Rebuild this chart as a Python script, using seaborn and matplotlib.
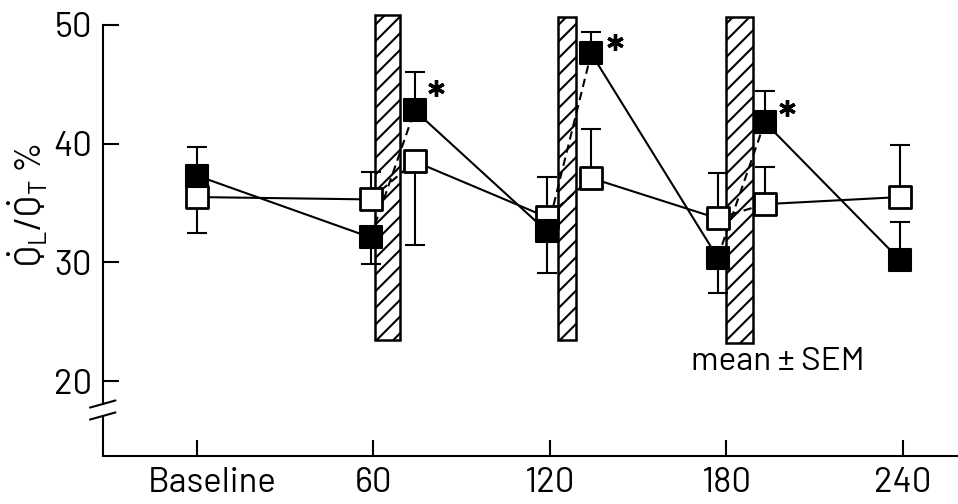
import numpy as np
import pandas as pd
import matplotlib
matplotlib.use("Agg")
import matplotlib.pyplot as plt
import matplotlib.transforms as mtransforms
import seaborn as sns

# sampling times (min) and values (QL/QT %)
times = [0, 59, 74, 119, 134, 177, 193, 239]
filled_vals = [37.3, 32.1, 42.8, 32.6, 47.6, 30.4, 41.8, 30.2]
filled_err_lo = [0, 2.2, 0, 3.5, 0, 3.0, 0, 0]
filled_err_hi = [2.4, 0, 3.2, 0, 1.8, 0, 2.6, 3.2]
open_vals = [35.5, 35.3, 38.5, 33.8, 37.1, 33.7, 34.9, 35.5]
open_err_lo = [3.0, 0, 7.0, 0, 0, 0, 0, 0]
open_err_hi = [0, 2.3, 0, 3.4, 4.1, 3.8, 3.1, 4.4]
link_kind = ["solid", "dashed", "solid", "dashed", "solid", "dashed", "solid"]

# hatched periods
band_start = [60.5, 122.7, 179.8]
band_end = [69.0, 128.8, 189.0]
band_low = [23.5, 23.5, 23.2]
band_high = [50.8, 50.7, 50.7]

# significance marks
star_t = [81.4, 142.0, 200.7]
star_v = [44.7, 48.6, 43.0]

xticks = [0, 60, 120, 180, 240]
xticklabels = ["Baseline", "60", "120", "180", "240"]
yticks = [20, 30, 40, 50]

sns.set_style("ticks")
plt.rcParams["font.family"] = ["Barlow", "Barlow Semi Condensed", "DejaVu Sans"]
plt.rcParams["mathtext.fontset"] = "custom"
plt.rcParams["mathtext.rm"] = "Barlow"
plt.rcParams["mathtext.it"] = "Barlow"
plt.rcParams["hatch.linewidth"] = 1.5

fig = plt.figure(figsize=(9.58, 5.04), dpi=100)
ax = fig.add_axes([0.1075, 0.0952, 0.8925, 0.879])

# hatched bars
for s, e, lo, hi in zip(band_start, band_end, band_low, band_high):
    ax.bar((s + e) / 2, hi - lo, bottom=lo, width=e - s, color="white",
           edgecolor="black", linewidth=1.8, hatch="//", zorder=1)


def link_frame(vals):
    rows = []
    for i, k in enumerate(link_kind):
        rows.append({"seg": i, "kind": k, "t": times[i], "v": vals[i]})
        rows.append({"seg": i, "kind": k, "t": times[i + 1], "v": vals[i + 1]})
    return pd.DataFrame(rows)


for vals in (filled_vals, open_vals):
    sns.lineplot(data=link_frame(vals), x="t", y="v", units="seg", style="kind",
                 estimator=None, color="black", linewidth=1.5, legend=False,
                 dashes={"solid": "", "dashed": (4, 2.5)}, ax=ax, zorder=2)


def draw_err(vals, lo, hi):
    t = np.array(times, dtype=float)
    v = np.array(vals)
    lo = np.array(lo)
    hi = np.array(hi)
    m = lo > 0
    ax.errorbar(t[m], v[m], yerr=[lo[m], np.zeros(m.sum())], fmt="none",
                ecolor="black", elinewidth=1.5, capsize=7, capthick=1.5, zorder=3)
    m = hi > 0
    ax.errorbar(t[m], v[m], yerr=[np.zeros(m.sum()), hi[m]], fmt="none",
                ecolor="black", elinewidth=1.5, capsize=7, capthick=1.5, zorder=3)


draw_err(filled_vals, filled_err_lo, filled_err_hi)
draw_err(open_vals, open_err_lo, open_err_hi)

sns.scatterplot(x=times, y=open_vals, marker="s", s=270, color="white",
                edgecolor="black", linewidth=2, ax=ax, zorder=5)
sns.scatterplot(x=times, y=filled_vals, marker="s", s=270, color="black",
                edgecolor="black", linewidth=1.5, ax=ax, zorder=5)

ax.plot(star_t, star_v, ls="none", marker=(6, 2, 0), ms=12, mew=2.4, color="black")

ax.text(197.3, 21.6, "mean ± SEM", fontsize=24, ha="center", va="center",
        color="black")

ax.set_xlim(-31.95, 258.7)
ax.set_ylim(13.69, 51)
ax.set_xticks(xticks)
ax.set_xticklabels(xticklabels)
ax.set_yticks(yticks)
ax.tick_params(direction="in", length=11.5, width=1.5, labelsize=25, pad=8,
               colors="black")
# the Baseline label sits a little right of its tick
base_lbl = ax.get_xticklabels()[0]
base_lbl.set_transform(base_lbl.get_transform() +
                       mtransforms.ScaledTranslation(0.15, 0, fig.dpi_scale_trans))
ax.set_xlabel("")
ax.set_ylabel(r"$\dot{\mathrm{Q}}_{\mathrm{L}}/\dot{\mathrm{Q}}_{\mathrm{T}}$ %",
              fontsize=26, color="black")
ax.yaxis.set_label_coords(-0.062, 0.566)

sns.despine(ax=ax)
for sp in ("left", "bottom"):
    ax.spines[sp].set_linewidth(1.5)
    ax.spines[sp].set_color("black")
ax.spines["left"].set_bounds(18.07, 50)
trans = ax.get_yaxis_transform()
ax.plot([0, 0], [13.69, 17.06], transform=trans, color="black", lw=1.5, clip_on=False)
for yb in (18.07, 17.06):
    ax.plot([-0.0152, 0.0146], [yb - 0.3, yb + 0.3], transform=trans, color="black",
            lw=1.5, clip_on=False)

fig.savefig("out.png", dpi=100, facecolor="white")
